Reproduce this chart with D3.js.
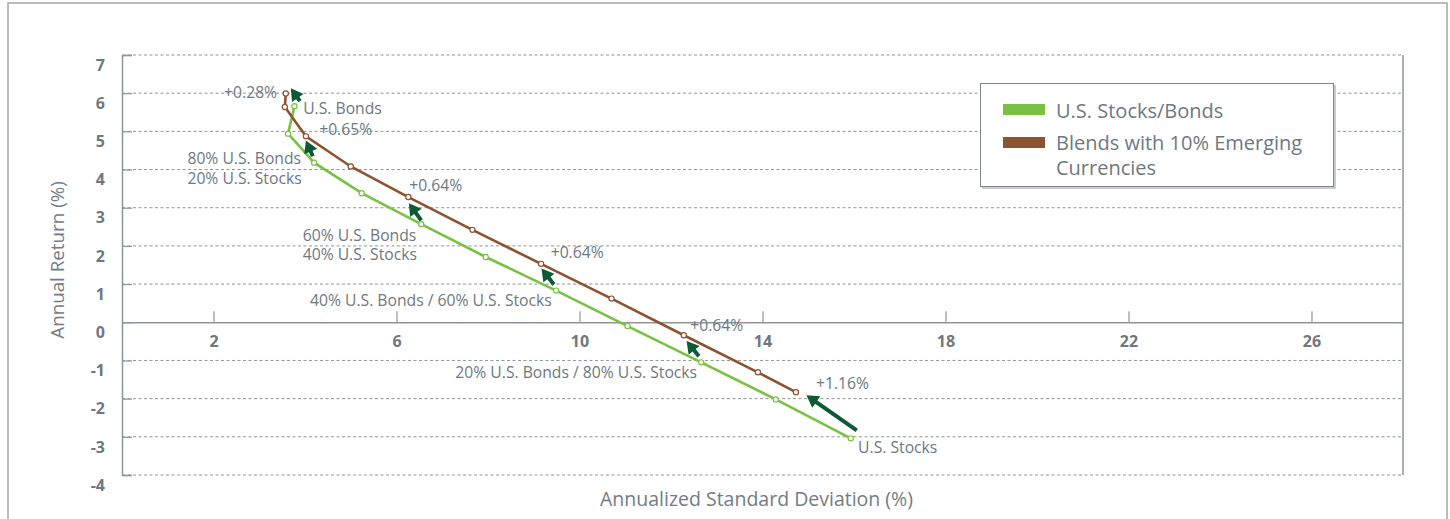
<!DOCTYPE html>
<html><head><meta charset="utf-8">
<script src="https://cdn.jsdelivr.net/npm/d3@7"></script>
<style>
html,body{margin:0;padding:0;background:#fff;}
svg{display:block;font-family:"Open Sans",Lato,sans-serif;}
</style></head>
<body><svg id="c" width="1450" height="519"></svg>
<script>
// ---- data ----
const xTicks = [2, 6, 10, 14, 18, 22, 26];
const yTicks = [-4, -3, -2, -1, 0, 1, 2, 3, 4, 5, 6, 7];
const seriesNames = ["U.S. Stocks/Bonds", "Blends with 10% Emerging Currencies"];
const stocksBondsX = [3.77, 3.63, 4.20, 5.24, 6.54, 7.95, 9.49, 11.05, 12.66, 14.29, 15.93];
const stocksBondsY = [5.66, 4.94, 4.18, 3.38, 2.57, 1.71, 0.83, -0.10, -1.05, -2.02, -3.04];
const blendX = [3.58, 3.56, 4.02, 5.00, 6.26, 7.66, 9.16, 10.70, 12.28, 13.90, 14.73];
const blendY = [5.99, 5.64, 4.87, 4.08, 3.28, 2.42, 1.53, 0.62, -0.34, -1.31, -1.83];
const arrowFromX = [3.89, 4.17, 6.54, 9.44, 12.61, 16.06];
const arrowFromY = [5.79, 4.35, 2.67, 0.99, -0.89, -2.83];
const arrowToX = [3.69, 4.02, 6.27, 9.17, 12.34, 14.96];
const arrowToY = [6.13, 4.76, 3.12, 1.41, -0.49, -1.91];
const noteText = ["+0.28%", "U.S. Bonds", "+0.65%", "80% U.S. Bonds", "20% U.S. Stocks", "+0.64%",
  "60% U.S. Bonds", "40% U.S. Stocks", "+0.64%", "40% U.S. Bonds / 60% U.S. Stocks", "+0.64%",
  "20% U.S. Bonds / 80% U.S. Stocks", "+1.16%", "U.S. Stocks"];
const noteX = [3.39, 3.96, 4.31, 1.43, 1.43, 6.28, 3.95, 3.95, 9.37, 4.11, 12.42, 12.57, 15.17, 16.09];
const noteY = [5.88, 5.45, 4.91, 4.15, 3.63, 3.44, 2.13, 1.62, 1.68, 0.42, -0.23, -1.45, -1.75, -3.42];
const noteAnchor = ["end","start","start","start","start","start","start","start","start","start","start","end","start","start"];

// ---- styles ----
const GREEN = "#79c142", BROWN = "#8c5331", ARROW = "#0d5a36", GRAY = "#6e7880", LINE = "#8e959b";
const FONT = "'Open Sans', Lato, sans-serif";

const svg = d3.select("#c");
const x = d3.scaleLinear().domain([0, 28]).range([122, 1403]);
const y = d3.scaleLinear().domain([-4, 7]).range([475, 55]);

// outer frame
svg.append("rect").attr("x", 8).attr("y", 3).attr("width", 1439).attr("height", 560)
  .attr("fill", "none").attr("stroke", "#a3a8ad").attr("stroke-width", 1.5);

// gridlines
svg.append("g").selectAll("line").data(yTicks.filter(d => d !== 0)).join("line")
  .attr("x1", x(0)).attr("x2", x(28)).attr("y1", d => y(d)).attr("y2", d => y(d))
  .attr("stroke", "#8e959b").attr("stroke-width", 1).attr("stroke-dasharray", "3,2.5");

// left axis with inward ticks
const yAxis = d3.axisLeft(y).tickValues(yTicks).tickSize(-10).tickFormat(d => String(d));
const gy = svg.append("g").attr("transform", `translate(${x(0)},0)`).call(yAxis);
gy.select(".domain").attr("stroke", LINE).attr("stroke-width", 1.5);
gy.selectAll(".tick line").attr("stroke", LINE).attr("stroke-width", 1.2);
gy.selectAll(".tick text").attr("x", -17).attr("dy", "0.95em").attr("fill", GRAY)
  .attr("font-size", 16).attr("font-weight", 700).attr("font-family", FONT);

// right border
svg.append("line").attr("x1", x(28)).attr("x2", x(28)).attr("y1", y(7)).attr("y2", y(-4))
  .attr("stroke", LINE).attr("stroke-width", 1.5);

// x axis at y=0, ticks upward
const xAxis = d3.axisBottom(x).tickValues(xTicks).tickSize(-11).tickSizeOuter(0).tickFormat(d => String(d));
const gx = svg.append("g").attr("transform", `translate(0,${y(0)})`).call(xAxis);
gx.select(".domain").attr("stroke", LINE).attr("stroke-width", 1.5);
gx.selectAll(".tick line").attr("stroke", LINE).attr("stroke-width", 1.2);
gx.selectAll(".tick text").attr("y", 13).attr("dy", "0.71em").attr("fill", GRAY)
  .attr("font-size", 16).attr("font-weight", 700).attr("font-family", FONT);

// axis titles
svg.append("text").attr("x", (x(0) + x(28)) / 2 - 6).attr("y", 506).attr("text-anchor", "middle")
  .attr("fill", "#737c84").attr("font-size", 19.5).text("Annualized Standard Deviation (%)");
svg.append("text").attr("transform", `translate(64,${(y(7) + y(-4)) / 2 - 5}) rotate(-90)`)
  .attr("text-anchor", "middle").attr("fill", "#737c84").attr("font-size", 18.8).text("Annual Return (%)");

// lines
const line = d3.line().x(d => x(d[0])).y(d => y(d[1]));
const sb = stocksBondsX.map((v, i) => [v, stocksBondsY[i]]);
const bl = blendX.map((v, i) => [v, blendY[i]]);
[[sb, GREEN], [bl, BROWN]].forEach(([pts, col]) => {
  svg.append("path").datum(pts).attr("d", line).attr("fill", "none").attr("stroke", col).attr("stroke-width", 2.6);
  svg.append("g").selectAll("circle").data(pts).join("circle")
    .attr("cx", d => x(d[0])).attr("cy", d => y(d[1])).attr("r", 2.6)
    .attr("fill", "#fff").attr("stroke", col).attr("stroke-width", 1.2);
});

// arrows
arrowFromX.forEach((fx, i) => {
  const x0 = x(fx), y0 = y(arrowFromY[i]), x1 = x(arrowToX[i]), y1 = y(arrowToY[i]);
  const dx = x1 - x0, dy = y1 - y0, L = Math.hypot(dx, dy);
  const ux = dx / L, uy = dy / L, nx = -uy, ny = ux;
  const hl = 12, hw = 7, sw = 2;
  const bx = x1 - ux * hl, by = y1 - uy * hl;
  const p = [
    [x0 + nx * sw, y0 + ny * sw], [bx + nx * sw, by + ny * sw], [bx + nx * hw, by + ny * hw],
    [x1, y1], [bx - nx * hw, by - ny * hw], [bx - nx * sw, by - ny * sw], [x0 - nx * sw, y0 - ny * sw]
  ];
  svg.append("path").attr("d", "M" + p.map(q => q.join(",")).join("L") + "Z").attr("fill", ARROW);
});

// notes
svg.append("g").selectAll("text").data(noteText).join("text")
  .attr("x", (d, i) => x(noteX[i])).attr("y", (d, i) => y(noteY[i]))
  .attr("text-anchor", (d, i) => noteAnchor[i])
  .attr("fill", GRAY).attr("font-size", 15.7).text(d => d);

// legend
const lg = svg.append("g");
lg.append("rect").attr("x", 982).attr("y", 85).attr("width", 354).attr("height", 104).attr("fill", "#c9cdd0");
lg.append("rect").attr("x", 980.5).attr("y", 83.5).attr("width", 353).attr("height", 103)
  .attr("fill", "#fff").attr("stroke", "#7d858c").attr("stroke-width", 1);
[GREEN, BROWN].forEach((c, i) => {
  lg.append("rect").attr("x", 1003).attr("y", 104 + i * 33).attr("width", 42).attr("height", 11).attr("fill", c);
});
lg.append("text").attr("x", 1056).attr("y", 118).attr("fill", GRAY).attr("font-size", 20).text(seriesNames[0]);
lg.append("text").attr("x", 1056).attr("y", 150).attr("fill", GRAY).attr("font-size", 20).text("Blends with 10% Emerging");
lg.append("text").attr("x", 1056).attr("y", 175).attr("fill", GRAY).attr("font-size", 20).text("Currencies");
</script></body></html>
